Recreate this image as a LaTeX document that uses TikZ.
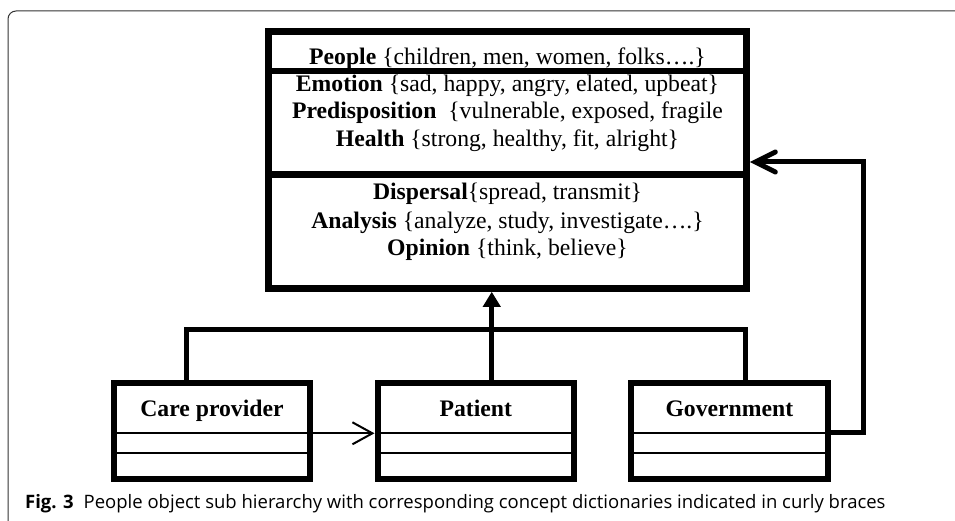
\documentclass[tikz,border=0pt]{standalone}
\usepackage{fontspec}
\setmainfont{Liberation Serif}
\newfontfamily\capfont{Open Sans}
\usetikzlibrary{arrows.meta,calc}

\begin{document}
\begin{tikzpicture}[x=1pt,y=-1pt,
  txt/.style={font=\fontsize{23.7}{27}\selectfont, inner sep=0pt, anchor=base},
  mainbox/.style={draw, line width=6.5pt, minimum width=478pt, minimum height=257pt, inner sep=0pt,
    path picture={
      \draw[line width=6.5pt] ([yshift=89pt]path picture bounding box.west) -- ([yshift=89pt]path picture bounding box.east);
      \draw[line width=6.5pt] ([yshift=-14.5pt]path picture bounding box.west) -- ([yshift=-14.5pt]path picture bounding box.east);
    }},
  classbox/.style={draw, line width=6pt, minimum width=196.5pt, minimum height=96.5pt, inner sep=0pt,
    path picture={
      \draw[line width=2pt] ([yshift=-2.55pt]path picture bounding box.west) -- ([yshift=-2.55pt]path picture bounding box.east);
      \draw[line width=2pt] ([yshift=-22.55pt]path picture bounding box.west) -- ([yshift=-22.55pt]path picture bounding box.east);
    }},
  tree/.style={line width=5pt, line join=miter},
  assoc/.style={line width=2pt, -{Straight Barb[length=20pt,width=22pt]}},
  assocthick/.style={line width=5pt, line join=miter, -{Straight Barb[length=20pt,width=20pt,line cap=round]}},
]
\useasboundingbox (0,0) rectangle (955,521);

% outer frame
\draw[black!80, line width=1pt, rounded corners=8pt] (955,11) -- (8,11) -- (8,521);

% People class with its concept dictionaries
\node[mainbox] (main) at (507.5,160) {};
\node[txt] (tPeople) at (507.5,65) {\textbf{People} \{children, men, women, folks….\}};
\node[txt] (tEmotion) at (507.5,91.7) {\textbf{Emotion} \{sad, happy, angry, elated, upbeat\}};
\node[txt] (tPredis) at (507.5,119) {\textbf{Predisposition}\ \ \{vulnerable, exposed, fragile};
\node[txt] (tHealth) at (507.5,146.7) {\textbf{Health} \{strong, healthy, fit, alright\}};
\node[txt] (tDispersal) at (507.5,200) {\textbf{Dispersal}\{spread, transmit\}};
\node[txt] (tAnalysis) at (507.5,228.3) {\textbf{Analysis} \{analyze, study, investigate….\}};
\node[txt] (tOpinion) at (507.5,255) {\textbf{Opinion} \{think, believe\}};

% sub classes
\node[classbox] (care) at (212,430.75) {};
\node[classbox] (patient) at (475.75,430.75) {};
\node[classbox] (govt) at (729.35,430.75) {};
\node[txt] (careName) at (212,416) {\textbf{Care provider}};
\node[txt] (patientName) at (475.75,416) {\textbf{Patient}};
\node[txt] (govtName) at (729.35,416) {\textbf{Government}};

% generalisation
\draw[tree] ([xshift=-25.3pt]care.north) -- ++(0,-50) -| ([xshift=15.7pt]govt.north);
\draw[tree, -{Triangle[length=15pt,width=17pt]}] ([xshift=16pt]patient.north) -- ([xshift=16pt]patient.north |- main.south);

% associations
\draw[assoc] ([yshift=-2.55pt]care.east) -- ([yshift=-2.55pt]care.east -| patient.west);
\draw[assocthick] ([yshift=-1.3pt]govt.east) -- ++(33.3,0) |- ([yshift=-2pt]main.east);

% caption
\node[anchor=base west, inner sep=0pt, font=\capfont\fontsize{18.5}{22}\selectfont] (caption) at (25,508)
  {\textbf{Fig. 3}\hspace{10pt}People object sub hierarchy with corresponding concept dictionaries indicated in curly braces};
\end{tikzpicture}
\end{document}
